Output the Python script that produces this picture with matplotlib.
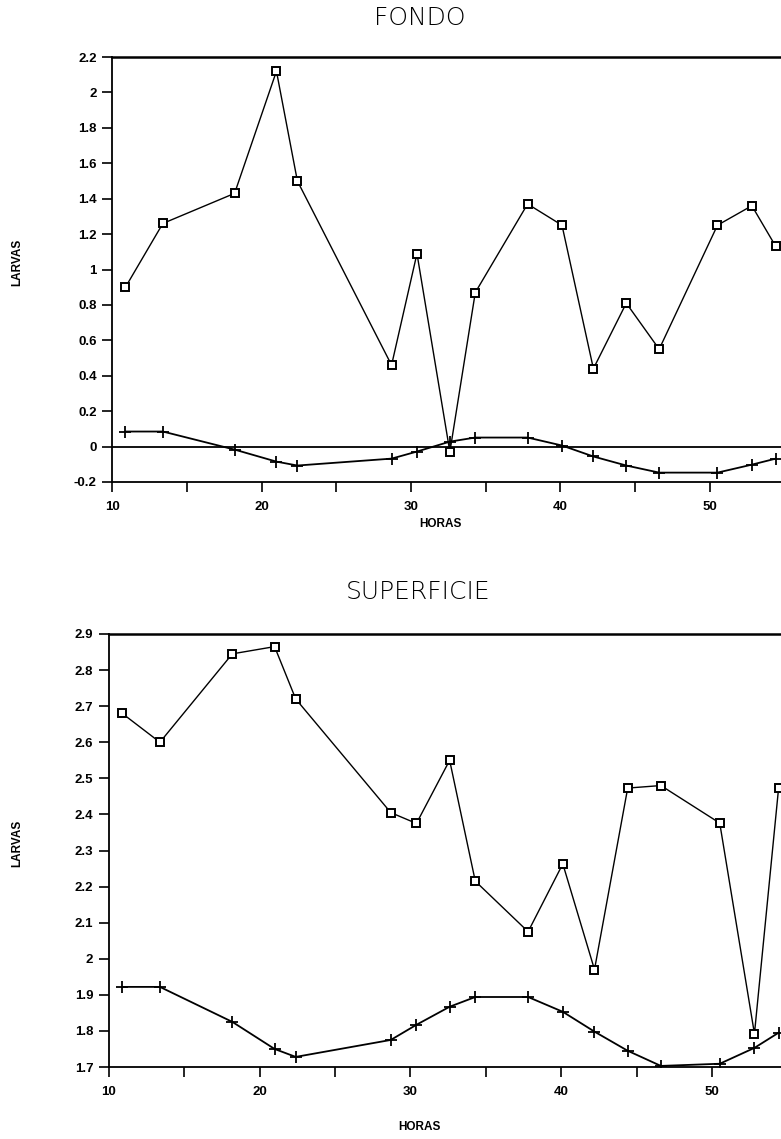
import matplotlib.pyplot as plt

# horas de muestreo (comunes a ambas estaciones)
horas = [10.9, 13.4, 18.2, 21.0, 22.4, 28.7, 30.4, 32.6, 34.3, 37.8,
         40.1, 42.2, 44.4, 46.6, 50.5, 52.8, 54.4]

# FONDO
fondo_obs = [0.90, 1.26, 1.43, 2.12, 1.50, 0.46, 1.09, -0.03, 0.87, 1.37,
             1.25, 0.44, 0.81, 0.55, 1.25, 1.36, 1.13]
fondo_aj = [0.085, 0.085, -0.017, -0.085, -0.107, -0.068, -0.028, 0.028, 0.051, 0.051,
            0.006, -0.056, -0.107, -0.147, -0.147, -0.102, -0.068]
fondo_yticks = [-0.2, 0, 0.2, 0.4, 0.6, 0.8, 1, 1.2, 1.4, 1.6, 1.8, 2, 2.2]
fondo_ylabels = ['-0.2', '0', '0.2', '0.4', '0.6', '0.8', '1', '1.2', '1.4',
                 '1.6', '1.8', '2', '2.2']

# SUPERFICIE
sup_obs = [2.68, 2.60, 2.845, 2.865, 2.72, 2.405, 2.375, 2.55, 2.215, 2.075,
           2.263, 1.97, 2.473, 2.48, 2.376, 1.792, 2.473]
sup_aj = [1.922, 1.922, 1.825, 1.750, 1.728, 1.775, 1.817, 1.867, 1.894, 1.894,
          1.853, 1.798, 1.745, 1.703, 1.709, 1.753, 1.795]
sup_yticks = [1.7, 1.8, 1.9, 2.0, 2.1, 2.2, 2.3, 2.4, 2.5, 2.6, 2.7, 2.8, 2.9]
sup_ylabels = ['1.7', '1.8', '1.9', '2', '2.1', '2.2', '2.3', '2.4', '2.5',
               '2.6', '2.7', '2.8', '2.9']

xticks = [10, 20, 30, 40, 50]
xminor = [15, 25, 35, 45, 55]

W, H = 781, 1139
fig = plt.figure(figsize=(W / 100, H / 100), dpi=100)

tick_font = dict(family='Liberation Sans', weight='bold', size=9.5)
lab_font = dict(family='Liberation Sans', weight='bold', size=8.5)
tit_font = dict(family='DejaVu Sans', weight='light', size=18, color='black')


def panel(rect, xmax, obs, aj, yticks, ylabels, ylim):
    ax = fig.add_axes(rect)
    ax.plot(horas, obs, color='black', lw=1.0, marker='s', ms=6,
            mfc='white', mec='black', mew=1.4, clip_on=False, zorder=3)
    ax.plot(horas, aj, color='black', lw=1.3, marker='+', ms=8,
            mew=1.3, zorder=3)
    ax.set_xlim(10, xmax)
    ax.set_ylim(*ylim)
    ax.set_yticks(yticks)
    ax.set_yticklabels(ylabels, fontdict=tick_font)
    ax.set_xticks(xticks)
    ax.set_xticklabels([str(v) for v in xticks], fontdict=tick_font)
    ax.set_xticks(xminor, minor=True)
    ax.tick_params(axis='both', which='both', direction='out', length=7,
                   width=1.2, color='black')
    ax.tick_params(axis='y', pad=4)
    ax.tick_params(axis='x', pad=7)
    for s in ax.spines.values():
        s.set_linewidth(1.3)
    ax.spines['top'].set_linewidth(1.8)
    return ax


# panel superior: FONDO
x0 = 112 / W
ax1 = panel([x0, 1 - 482 / H, 1.01 - x0, (482 - 57) / H],
            10 + (1.01 * W - 112) / 14.95, fondo_obs, fondo_aj,
            fondo_yticks, fondo_ylabels, (-0.2, 2.2))
ax1.axhline(0, color='black', lw=1.3, zorder=2)

# panel inferior: SUPERFICIE
x0b = 108.6 / W
ax2 = panel([x0b, 1 - 1067 / H, 1.01 - x0b, (1067 - 634) / H],
            10 + (1.01 * W - 108.6) / 15.09, sup_obs, sup_aj,
            sup_yticks, sup_ylabels, (1.7, 2.9))

fig.text(420 / W, 1 - 18 / H, 'FONDO', ha='center', va='center', **tit_font)
fig.text(418 / W, 1 - 592 / H, 'SUPERFICIE', ha='center', va='center', **tit_font)

fig.text(17 / W, 1 - 262 / H, 'LARVAS', rotation=90, ha='center', va='center', **lab_font)
fig.text(17 / W, 1 - 843 / H, 'LARVAS', rotation=90, ha='center', va='center', **lab_font)
fig.text(440 / W, 1 - 524 / H, 'HORAS', ha='center', va='center', **lab_font)
fig.text(419 / W, 1 - 1127 / H, 'HORAS', ha='center', va='center', **lab_font)

fig.savefig('out.png', dpi=100)
